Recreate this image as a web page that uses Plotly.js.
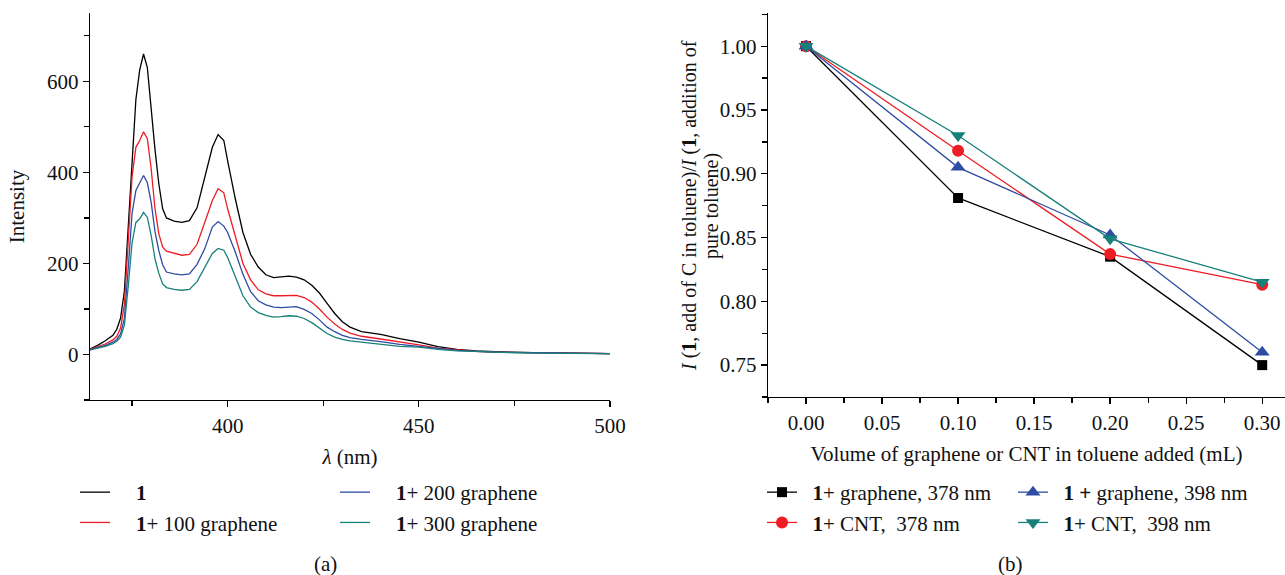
<!DOCTYPE html>
<html>
<head>
<meta charset="utf-8">
<script src="https://cdn.plot.ly/plotly-3.0.1.min.js"></script>
<style>html,body{margin:0;padding:0;background:#fff;} #chart{width:1285px;height:575px;}</style>
</head>
<body>
<div id="chart"></div>
<script>
// ---- Panel (a): emission spectra ----
const wavelength = [364, 366, 368, 370, 371, 372, 373, 374, 375, 376, 377, 378, 379, 380, 381, 382, 383, 384, 386, 388, 390, 392, 394, 396, 397.5, 399, 400, 402, 404, 406, 408, 410, 412, 414, 416, 418, 420, 422, 424, 426, 428, 430, 432, 435, 440, 445, 450, 455, 460, 465, 470, 480, 490, 500];
const int1 = [12, 20, 30, 42, 55, 80, 140, 280, 430, 560, 625, 660, 630, 535, 450, 375, 320, 300, 293, 290, 294, 322, 386, 455, 483, 470, 425, 342, 268, 220, 192, 175, 169, 171, 172, 170, 164, 152, 135, 112, 90, 72, 60, 50, 44, 35, 27, 17, 11, 8, 6, 4, 3, 2];
const int100 = [11, 17, 23, 32, 40, 58, 110, 250, 390, 455, 470, 489, 474, 408, 320, 265, 236, 227, 223, 218, 220, 242, 290, 338, 364, 355, 320, 258, 200, 164, 142, 133, 129, 129, 130, 130, 125, 115, 100, 82, 67, 55, 47, 40, 34, 28, 21, 14, 10, 7, 5, 4, 3, 2];
const int200 = [10, 15, 20, 27, 33, 45, 80, 190, 310, 360, 375, 393, 377, 334, 270, 228, 197, 181, 177, 175, 177, 198, 232, 280, 292, 282, 268, 225, 176, 138, 118, 109, 104, 103, 104, 105, 99, 90, 76, 60, 50, 42, 37, 33, 28, 22, 18, 13, 9, 7, 5, 4, 3, 2];
const int300 = [10, 14, 18, 24, 29, 38, 65, 150, 245, 290, 298, 312, 301, 261, 210, 178, 155, 147, 143, 141, 143, 160, 191, 222, 233, 229, 213, 172, 129, 104, 92, 86, 82, 83, 85, 84, 79, 70, 58, 46, 38, 33, 30, 27, 23, 18, 16, 11, 8, 6, 5, 3, 2, 2];
const spectraNames = ["<b>1</b>", "<b>1</b>+ 100 graphene", "<b>1</b>+ 200 graphene", "<b>1</b>+ 300 graphene"];

// ---- Panel (b): quenching ratios ----
const volume = [0.00, 0.10, 0.20, 0.30];
const graphene378 = [1.000, 0.881, 0.835, 0.750];
const cnt378 = [1.000, 0.918, 0.837, 0.813];
const graphene398 = [1.000, 0.905, 0.852, 0.760];
const cnt398 = [1.000, 0.930, 0.849, 0.815];
const ratioNames = ["<b>1</b>+ graphene, 378 nm", "<b>1</b>+ CNT,  378 nm", "<b>1 +</b> graphene, 398 nm", "<b>1</b>+ CNT,  398 nm"];
const ratioTitleLines = ["<i>I</i> (<b>1</b>, add of C in toluene)/<i>I</i> (<b>1</b>, addition of", "pure toluene)"];

const FONT = "\"Liberation Serif\", \"Times New Roman\", serif";
const FS = 21;
const PADA = "\u00A0\u00A0\u00A0\u00A0";
const PADB = "\u00A0\u00A0";
const cBlack = "#000000", cRed = "#EE1D25", cBlue = "#2F4CA3", cTeal = "#178079";

const traces = [
  {x: wavelength, y: int1, name: PADA + spectraNames[0], mode: "lines", line: {color: cBlack, width: 1.3}, xaxis: "x", yaxis: "y", legend: "legend"},
  {x: wavelength, y: int100, name: PADA + spectraNames[1], mode: "lines", line: {color: cRed, width: 1.3}, xaxis: "x", yaxis: "y", legend: "legend"},
  {x: wavelength, y: int200, name: PADA + spectraNames[2], mode: "lines", line: {color: cBlue, width: 1.3}, xaxis: "x", yaxis: "y", legend: "legend2"},
  {x: wavelength, y: int300, name: PADA + spectraNames[3], mode: "lines", line: {color: cTeal, width: 1.3}, xaxis: "x", yaxis: "y", legend: "legend2"},
  {x: volume, y: graphene378, name: PADB + ratioNames[0], mode: "lines+markers", line: {color: cBlack, width: 1.3}, marker: {symbol: "square", size: 10, color: cBlack}, xaxis: "x2", yaxis: "y2", legend: "legend3"},
  {x: volume, y: cnt378, name: PADB + ratioNames[1], mode: "lines+markers", line: {color: cRed, width: 1.3}, marker: {symbol: "circle", size: 12, color: cRed}, xaxis: "x2", yaxis: "y2", legend: "legend3"},
  {x: volume, y: graphene398, name: PADB + ratioNames[2], mode: "lines+markers", line: {color: cBlue, width: 1.3}, marker: {symbol: "triangle-up", size: 13, color: cBlue}, xaxis: "x2", yaxis: "y2", legend: "legend4"},
  {x: volume, y: cnt398, name: PADB + ratioNames[3], mode: "lines+markers", line: {color: cTeal, width: 1.3}, marker: {symbol: "triangle-down", size: 13, color: cTeal}, xaxis: "x2", yaxis: "y2", legend: "legend4"}
];

const axisCommon = {
  showgrid: false, zeroline: false, showline: true, linecolor: "#000", linewidth: 1.3,
  ticks: "outside", ticklen: 6, tickwidth: 1.3, tickcolor: "#000",
  tickfont: {family: FONT, size: FS, color: "#111"}
};
const legendCommon = {
  font: {family: FONT, size: FS, color: "#111"}, bgcolor: "rgba(0,0,0,0)",
  xanchor: "left", yanchor: "top", tracegroupgap: 0, itemwidth: 30
};
const titleFont = {family: FONT, size: FS, color: "#111"};

const layout = {
  width: 1285, height: 575,
  margin: {l: 0, r: 0, t: 0, b: 0},
  paper_bgcolor: "#fff", plot_bgcolor: "#fff",
  font: {family: FONT, size: FS, color: "#111"},
  showlegend: true,
  xaxis: Object.assign({}, axisCommon, {
    domain: [90/1285, 610/1285], range: [364, 500], dtick: 50, tick0: 400,
    minor: {dtick: 25, tick0: 400, ticks: "outside", ticklen: 5, tickwidth: 1.3, tickcolor: "#000"},
    title: {text: "<i>λ</i> (nm)", font: titleFont, standoff: 12},
    anchor: "y"
  }),
  yaxis: Object.assign({}, axisCommon, {
    domain: [175/575, 562/575], range: [-100, 750], dtick: 200, tick0: 0,
    minor: {dtick: 100, tick0: 0, ticks: "outside", ticklen: 5, tickwidth: 1.3, tickcolor: "#000"},
    title: {text: "Intensity", font: titleFont, standoff: 16},
    anchor: "x"
  }),
  xaxis2: Object.assign({}, axisCommon, {
    domain: [768/1285, 1], range: [-0.025, 0.315], dtick: 0.05, tick0: 0, tickformat: ".2f",
    minor: {dtick: 0.025, tick0: 0, ticks: "outside", ticklen: 5, tickwidth: 1.3, tickcolor: "#000"},
    title: {text: "Volume of graphene or CNT in toluene added (mL)", font: titleFont, standoff: 12},
    anchor: "y2"
  }),
  yaxis2: Object.assign({}, axisCommon, {
    domain: [178/575, 562/575], range: [0.725, 1.026], dtick: 0.05, tick0: 0.75, tickformat: ".2f",
    minor: {dtick: 0.025, tick0: 0.75, ticks: "outside", ticklen: 5, tickwidth: 1.3, tickcolor: "#000"},
    anchor: "x2"
  }),
  legend: Object.assign({}, legendCommon, {x: 75/1285, y: 1 - 472/575}),
  legend2: Object.assign({}, legendCommon, {x: 335/1285, y: 1 - 472/575}),
  legend3: Object.assign({}, legendCommon, {x: 762/1285, y: 1 - 472/575}),
  legend4: Object.assign({}, legendCommon, {x: 1013/1285, y: 1 - 472/575}),
  annotations: [
    {text: ratioTitleLines[0], textangle: -90, xref: "paper", yref: "paper", x: 689/1285, y: 1 - 206/575, showarrow: false, xanchor: "center", yanchor: "middle", font: {family: FONT, size: 20, color: "#111"}},
    {text: ratioTitleLines[1], textangle: -90, xref: "paper", yref: "paper", x: 711/1285, y: 1 - 206/575, showarrow: false, xanchor: "center", yanchor: "middle", font: {family: FONT, size: 20, color: "#111"}},
    {text: "(a)", xref: "paper", yref: "paper", x: 325/1285, y: 1 - 564/575, showarrow: false, xanchor: "center", yanchor: "middle", font: titleFont},
    {text: "(b)", xref: "paper", yref: "paper", x: 1010/1285, y: 1 - 564/575, showarrow: false, xanchor: "center", yanchor: "middle", font: titleFont}
  ]
};

Plotly.newPlot("chart", traces, layout, {staticPlot: true, displayModeBar: false});
</script>
</body>
</html>
